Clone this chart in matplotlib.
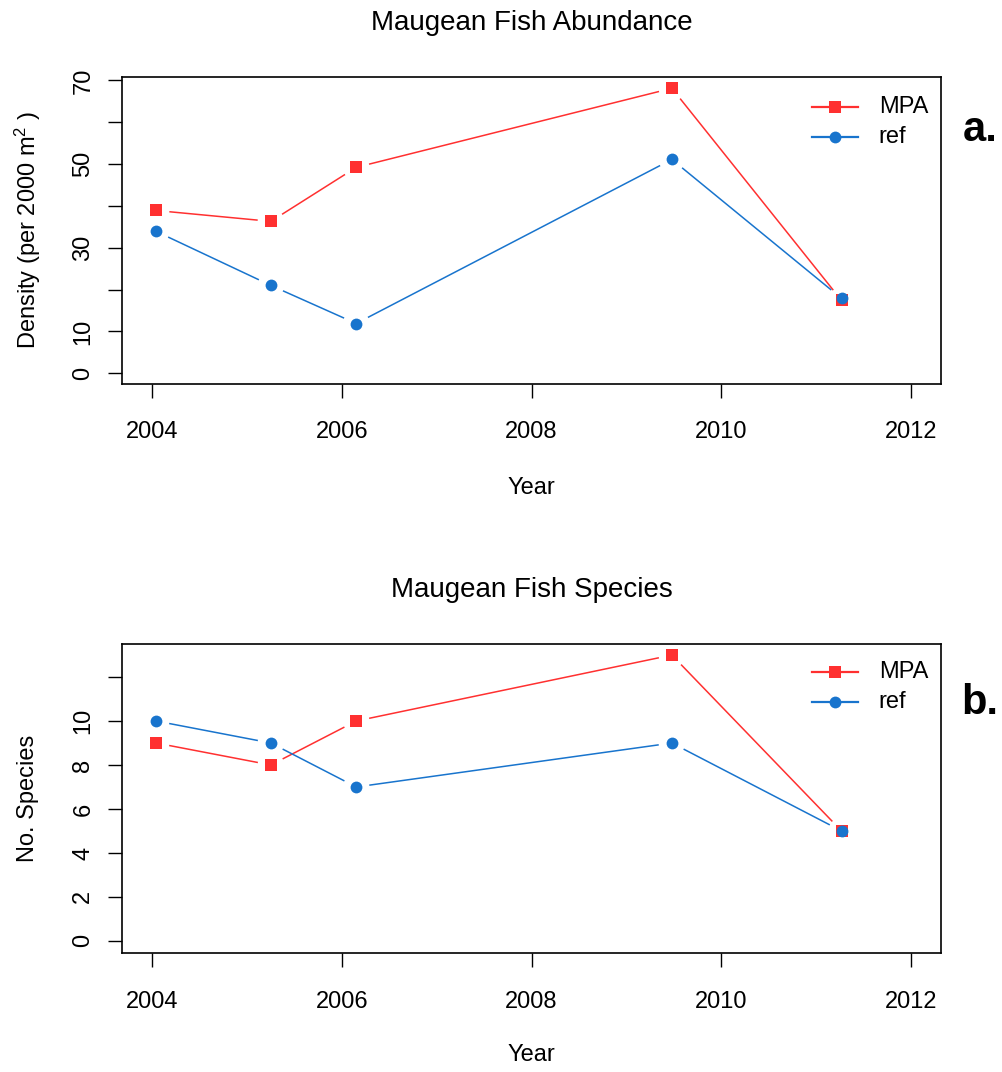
import matplotlib
matplotlib.use("Agg")
import matplotlib.pyplot as plt
import numpy as np

plt.rcParams['font.family'] = ['Liberation Sans', 'DejaVu Sans']
plt.rcParams['mathtext.fontset'] = 'custom'
plt.rcParams['mathtext.rm'] = 'Liberation Sans'
plt.rcParams['mathtext.it'] = 'Liberation Sans'

# survey dates (decimal years)
years = [2004.04, 2005.25, 2006.15, 2009.48, 2011.27]

# maugean fish density per 2000 m2
dens_mpa = [38.9, 36.3, 49.2, 68.1, 17.4]
dens_ref = [33.9, 21.0, 11.9, 51.1, 17.9]

# number of maugean species
spp_mpa = [9, 8, 10, 13, 5]
spp_ref = [10, 9, 7, 9, 5]

RED = "#FF3030"
BLUE = "#1874CD"
FS = 17

fig = plt.figure(figsize=(10.02, 10.72), dpi=100)
ax1 = fig.add_axes([0.1218, 0.6418, 0.8174, 0.2864])
ax2 = fig.add_axes([0.1218, 0.1110, 0.8174, 0.2882])


def type_b(ax, x, y, color, marker, gap=14):
    # R style type="b": segments stop short of the points
    pts = ax.transData.transform(np.column_stack([x, y]))
    inv = ax.transData.inverted()
    for p, q in zip(pts[:-1], pts[1:]):
        d = q - p
        L = np.hypot(*d)
        if L <= 2 * gap:
            continue
        u = d / L
        a = inv.transform(p + u * gap)
        b = inv.transform(q - u * gap)
        ax.plot([a[0], b[0]], [a[1], b[1]], color=color, lw=1.1)
    ax.plot(x, y, ls='none', marker=marker, color=color, ms=8.5, mew=0)


def legend(ax, y0):
    rows = [("MPA", RED, 's'), ("ref", BLUE, 'o')]
    for i, (lab, c, m) in enumerate(rows):
        yy = y0 - i * 0.098
        ax.plot([0.843, 0.899], [yy, yy], transform=ax.transAxes, color=c, lw=1.6, clip_on=False)
        ax.plot([0.871], [yy], transform=ax.transAxes, color=c, marker=m, ms=8.5, mew=0, clip_on=False)
        ax.text(0.924, yy, lab, transform=ax.transAxes, fontsize=FS, va='center', ha='left')


def style(ax, ylab):
    ax.set_xticks([2004, 2006, 2008, 2010, 2012])
    ax.tick_params(direction='out', length=10, width=1, labelsize=FS)
    ax.tick_params(axis='x', pad=17)
    ax.tick_params(axis='y', pad=10)
    for s in ax.spines.values():
        s.set_linewidth(1.2)
    ax.set_xlabel("Year", fontsize=FS)
    ax.set_ylabel(ylab, fontsize=FS)


# top panel
ax1.set_xlim(2003.68, 2012.32)
ax1.set_ylim(-2.55, 70.8)
ax1.set_yticks(np.arange(0, 71, 10))
ax1.set_yticklabels(["0", "10", "", "30", "", "50", "", "70"])
type_b(ax1, years, dens_mpa, RED, 's')
type_b(ax1, years, dens_ref, BLUE, 'o')
style(ax1, r"Density (per 2000 m$^{2}$ )")
ax1.set_title("Maugean Fish Abundance", fontsize=20, pad=34)
ax1.xaxis.set_label_coords(0.5, -(488 - 384) / 307)
ax1.xaxis.label.set_va('center')
ax1.yaxis.set_label_coords(-(122 - 28) / 819, 0.5)
ax1.yaxis.label.set_va('center')
legend(ax1, 1 - (107 - 77) / 307)

# bottom panel
ax2.set_xlim(2003.68, 2012.32)
ax2.set_ylim(-0.55, 13.5)
ax2.set_yticks(np.arange(0, 13, 2))
ax2.set_yticklabels(["0", "2", "4", "6", "8", "10", ""])
type_b(ax2, years, spp_mpa, RED, 's')
type_b(ax2, years, spp_ref, BLUE, 'o')
style(ax2, "No. Species")
ax2.set_title("Maugean Fish Species", fontsize=20, pad=34)
ax2.xaxis.set_label_coords(0.5, -(1055 - 953) / 309)
ax2.xaxis.label.set_va('center')
ax2.yaxis.set_label_coords(-(122 - 28) / 819, 0.5)
ax2.yaxis.label.set_va('center')
legend(ax2, 1 - (672 - 644) / 309)

for ax in (ax1, ax2):
    for lab in ax.get_yticklabels():
        lab.set_rotation(90)
        lab.set_va('center')

fig.text(980 / 1002, 1 - 130 / 1072, "a.", fontsize=30, fontweight='bold', ha='center', va='center')
fig.text(980 / 1002, 1 - 703 / 1072, "b.", fontsize=30, fontweight='bold', ha='center', va='center')

fig.savefig("out.png", dpi=100)
